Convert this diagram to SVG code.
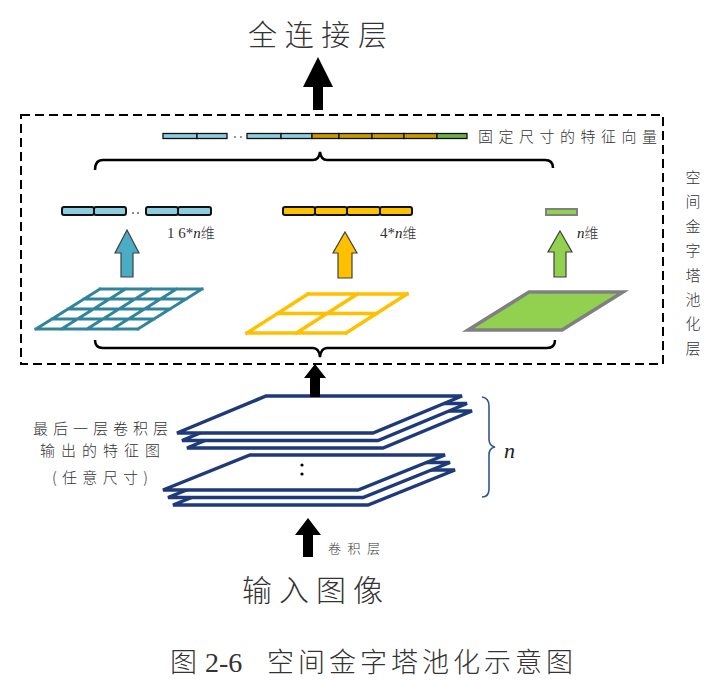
<svg xmlns="http://www.w3.org/2000/svg" width="718" height="692" viewBox="0 0 718 692">
<defs>
<style>
.cjk{font-family:"Noto Sans CJK SC","Noto Sans CJK JP",sans-serif;font-weight:300;fill:#333}
.ser{font-family:"Liberation Serif",serif;fill:#333}
.it{font-family:"Liberation Serif",serif;font-style:italic;fill:#222}
.barT{stroke:#111;stroke-width:1.3}
.barM{stroke:#111;stroke-width:2}
.arr{stroke:#404040;stroke-width:1.2}
.blk{fill:#000}
.plane{fill:#fff;stroke:#1E3A78;stroke-width:3.5;stroke-linejoin:miter}
.brace{fill:none;stroke:#000;stroke-width:2.5}
</style>
</defs>
<rect width="718" height="692" fill="#fff"/>

<g id="title">
<text class="cjk" x="248" y="46" font-size="29" textLength="139" lengthAdjust="spacing" fill="#222">全连接层</text>
</g>

<g id="spp-box">
<rect x="21" y="115" width="642" height="249" fill="none" stroke="#000" stroke-width="2" stroke-dasharray="9,5"/>
<g class="cjk" font-size="15" text-anchor="middle" fill="#444">
<text x="693" y="183">空</text><text x="693" y="207">间</text><text x="693" y="232">金</text><text x="693" y="256">字</text><text x="693" y="281">塔</text><text x="693" y="305">池</text><text x="693" y="329">化</text><text x="693" y="354">层</text>
</g>
</g>

<g id="fixed-vector">
<rect class="barT" x="163" y="133.5" width="34" height="5" fill="#8DCDE0"/>
<rect class="barT" x="197" y="133.5" width="30" height="5" fill="#8DCDE0"/>
<circle cx="235" cy="137" r="0.9" fill="#666"/><circle cx="241" cy="137" r="0.9" fill="#666"/>
<rect class="barT" x="247" y="133.5" width="34" height="5" fill="#8DCDE0"/>
<rect class="barT" x="281" y="133.5" width="31" height="5" fill="#8DCDE0"/>
<rect class="barT" x="312" y="133.5" width="27" height="5" fill="#C99A00"/>
<rect class="barT" x="339" y="133.5" width="33" height="5" fill="#C99A00"/>
<rect class="barT" x="372" y="133.5" width="32" height="5" fill="#C99A00"/>
<rect class="barT" x="404" y="133.5" width="33" height="5" fill="#C99A00"/>
<rect class="barT" x="437" y="133.5" width="30" height="5" fill="#70AD47"/>
<text class="cjk" x="478" y="142" font-size="15" textLength="179" lengthAdjust="spacing" fill="#555">固定尺寸的特征向量</text>
</g>

<g id="vector-16n">
<rect class="barM" x="62" y="207" width="32" height="8" rx="2" fill="#8DCDE0"/>
<rect class="barM" x="94" y="207" width="32" height="8" rx="2" fill="#8DCDE0"/>
<circle cx="133" cy="213" r="0.9" fill="#555"/><circle cx="138" cy="213" r="0.9" fill="#555"/>
<rect class="barM" x="146" y="207" width="32" height="8" rx="2" fill="#8DCDE0"/>
<rect class="barM" x="178" y="207" width="33" height="8" rx="2" fill="#8DCDE0"/>
<text x="167" y="238" font-size="15"><tspan class="ser">1 6*</tspan><tspan class="it">n</tspan><tspan class="cjk" fill="#777" font-size="14">维</tspan></text>
</g>

<g id="vector-4n">
<rect class="barM" x="283" y="207" width="32" height="8" rx="2" fill="#FFC000"/>
<rect class="barM" x="315" y="207" width="32" height="8" rx="2" fill="#FFC000"/>
<rect class="barM" x="347" y="207" width="33" height="8" rx="2" fill="#FFC000"/>
<rect class="barM" x="380" y="207" width="32" height="8" rx="2" fill="#FFC000"/>
<text x="380" y="238" font-size="15"><tspan class="ser" fill="#777">4*</tspan><tspan class="it">n</tspan><tspan class="cjk" fill="#777" font-size="14">维</tspan></text>
</g>

<g id="vector-n">
<rect x="546" y="209" width="31" height="6" fill="#92D050" stroke="#808080" stroke-width="2"/>
<text x="577" y="238" font-size="15"><tspan class="it">n</tspan><tspan class="cjk" fill="#666" font-size="14">维</tspan></text>
</g>

<g id="grid-4x4" fill="none" stroke="#31849B" stroke-width="3" stroke-linecap="square">
<path d="M100,289H202M84,299H186M68,309H170M52,319H154M36,329H138M100,289L36,329M125.5,289L61.5,329M151,289L87,329M176.5,289L112.5,329M202,289L138,329"/>
</g>

<g id="grid-2x2" fill="none" stroke="#FFC000" stroke-width="3.5" stroke-linecap="square">
<path d="M308,294H407M277.5,313.5H376.5M247,333H346M308,294L247,333M357.5,294L296.5,333M407,294L346,333"/>
</g>

<g id="grid-1x1">
<polygon points="529,292 623,292 562,330 468,330" fill="#92D050" stroke="#808080" stroke-width="3.5"/>
</g>

<g id="feature-maps">
<polygon class="plane" points="276,411 472,411 383,448 187,448"/>
<polygon class="plane" points="271,403.5 467,403.5 378,440.5 182,440.5"/>
<polygon class="plane" points="266,396 462,396 373,433 177,433"/>
<polygon class="plane" points="260,470 455,470 368,505 173,505"/>
<polygon class="plane" points="255,462.5 450,462.5 363,497.5 168,497.5"/>
<polygon class="plane" points="250,455 445,455 358,490 163,490"/>
<circle cx="302" cy="465" r="1.6" fill="#000"/>
<circle cx="302" cy="474" r="1.6" fill="#000"/>
<path d="M482,397 Q489,398 489,406 L489,439 Q489,446 495,447 Q489,448 489,455 L489,489 Q489,497 482,497" fill="none" stroke="#2F5597" stroke-width="1.6"/>
<text class="it" x="504" y="458" font-size="22">n</text>
<g class="cjk" font-size="15" fill="#444">
<text x="33" y="434" textLength="135" lengthAdjust="spacing">最后一层卷积层</text>
<text x="40" y="456" textLength="120" lengthAdjust="spacing">输出的特征图</text>
<text x="52" y="483" textLength="96" lengthAdjust="spacing">(任意尺寸)</text>
</g>
</g>

<g id="input">
<text class="cjk" x="328" y="553" font-size="13" textLength="52" lengthAdjust="spacing" fill="#555">卷积层</text>
<text class="cjk" x="242" y="601" font-size="30" textLength="141" lengthAdjust="spacing" fill="#222">输入图像</text>
</g>

<g id="connectors">
<polygon class="blk" points="318,57 333,87 323,87 323,110 313,110 313,87 303,87"/>
<polygon class="blk" points="315,364 326,378 320,378 320,397 310,397 310,378 304,378"/>
<polygon class="blk" points="308,518 321,535 313,535 313,557 303,557 303,535 295,535"/>
<polygon class="arr" fill="#4BACC6" points="127,230 139,253 133,253 133,277 121,277 121,253 115,253"/>
<polygon class="arr" fill="#FFC000" points="345,232 357,253 352,253 352,278 338,278 338,253 333,253"/>
<polygon class="arr" fill="#92D050" points="560,231 572,252 566,252 566,277 554,277 554,252 548,252"/>
<path class="brace" d="M95,170 Q95,160 103,160 L313,160 Q319,160 320,152 Q321,160 327,160 L545,160 Q553,160 553,168"/>
<path class="brace" d="M95,340 Q95,348 103,348 L313,348 Q319,348 320,357 Q321,348 327,348 L547,348 Q555,348 555,340"/>
</g>

<g id="caption">
<text x="170" y="672" font-size="27"><tspan class="cjk" fill="#222">图</tspan><tspan class="ser" x="205" font-size="28" fill="#222">2-6</tspan></text>
<text class="cjk" x="267" y="672" font-size="27" textLength="306" lengthAdjust="spacing" fill="#222">空间金字塔池化示意图</text>
</g>
</svg>
